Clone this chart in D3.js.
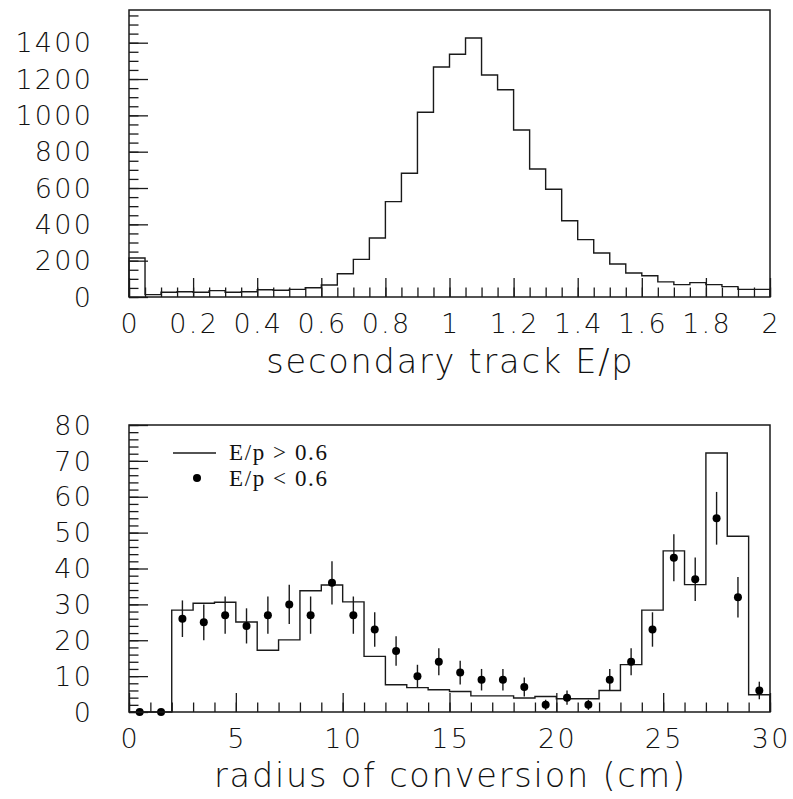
<!DOCTYPE html>
<html>
<head>
<meta charset="utf-8">
<script src="https://cdn.jsdelivr.net/npm/d3@7"></script>
<style>
  html, body { margin: 0; padding: 0; background: #fff; }
  svg { display: block; }
  .tick-label { font-family: "DejaVu Sans", Lato, sans-serif; font-weight: 200; fill: #111; }
  .axis-title { font-family: "DejaVu Sans", Lato, sans-serif; font-weight: 200; fill: #111; }
  .legend-text { font-family: "Liberation Serif", "Times New Roman", serif; fill: #111; }
</style>
</head>
<body>
<svg id="chart" width="793" height="799"></svg>
<script>
// ---- E/p distribution of the secondary track (bins of 0.05 from 0 to 2)
const epBinWidth = 0.05;
const epCounts = [
  215, 13, 26, 29, 26, 35, 26, 29, 40, 37,
  42, 51, 66, 128, 207, 325, 525, 681, 1017, 1266,
  1336, 1426, 1222, 1141, 919, 705, 593, 420, 316, 242,
  182, 132, 117, 83, 68, 79, 68, 57, 42, 42
];
const epTickLabels = [0, 0.2, 0.4, 0.6, 0.8, 1, 1.2, 1.4, 1.6, 1.8, 2];
const epCountTicks = [0, 200, 400, 600, 800, 1000, 1200, 1400];

// ---- Radius of conversion (1 cm bins from 0 to 30)
const radiusBinWidth = 1;
const radiusHighEp = [
  0, 0, 28.4, 30.3, 30.6, 25.1, 17.2, 20.1, 33.8, 35.4,
  30.7, 15.5, 7.6, 6.8, 6.2, 5.7, 4.5, 4.5, 3.9, 4.3,
  3.7, 3.7, 6.0, 13.2, 28.4, 44.9, 35.5, 72.2, 49.0, 4.8
];
const radiusLowEp = [
  0, 0, 26, 25, 27, 24, 27, 30, 27, 36,
  27, 23, 17, 10, 14, 11, 9, 9, 7, 2,
  4, 2, 9, 14, 23, 43, 37, 54, 32, 6
];
const radiusTickLabels = [0, 5, 10, 15, 20, 25, 30];
const radiusCountTicks = [0, 10, 20, 30, 40, 50, 60, 70, 80];
const legendLabels = ["E/p > 0.6", "E/p < 0.6"];

const svg = d3.select("#chart");
const ink = "#1a1a1a";
const majorLen = 19, minorLen = 9.5;
const labelSpacing = 2.3; // letter-spacing of tick labels, px
const titleSpacing = 1.8; // letter-spacing of axis titles, px

function stepPoints(values, width) {
  const pts = [[0, 0]];
  values.forEach((v, i) => pts.push([i * width, v]));
  pts.push([values.length * width, 0]);
  return pts;
}

function drawFrame(g, x, y, opts) {
  const [x0, x1] = x.range();
  const [y0, y1] = y.range();

  // minor + major ticks along the bottom, pointing inward
  const xMinor = d3.range(0, opts.xMax + 1e-9, opts.xMinorStep);
  g.append("g")
    .attr("transform", `translate(0,${y0})`)
    .call(d3.axisBottom(x).tickValues(xMinor).tickSize(-minorLen).tickFormat(""))
    .call(a => a.select(".domain").remove());
  g.append("g")
    .attr("transform", `translate(0,${y0})`)
    .call(d3.axisBottom(x).tickValues(opts.xTicks).tickSize(-majorLen).tickFormat(""))
    .call(a => a.select(".domain").remove());

  // left ticks, pointing inward
  const yMinor = d3.range(0, opts.yMax + 1e-9, opts.yMinorStep);
  g.append("g")
    .attr("transform", `translate(${x0},0)`)
    .call(d3.axisLeft(y).tickValues(yMinor).tickSize(-minorLen).tickFormat(""))
    .call(a => a.select(".domain").remove());
  g.append("g")
    .attr("transform", `translate(${x0},0)`)
    .call(d3.axisLeft(y).tickValues(opts.yTicks).tickSize(-majorLen).tickFormat(""))
    .call(a => a.select(".domain").remove());

  g.selectAll(".tick line").attr("stroke", ink).attr("stroke-width", 1.3);

  // tick labels (shifted to compensate the trailing letter-spacing)
  g.append("g").selectAll("text")
    .data(opts.xTicks).join("text")
    .attr("class", "tick-label")
    .attr("x", d => x(d) + labelSpacing / 2)
    .attr("y", y0 + opts.xLabelOffset)
    .attr("text-anchor", "middle")
    .style("font-size", opts.labelSize + "px")
    .style("letter-spacing", labelSpacing + "px")
    .text(d => d);
  g.append("g").selectAll("text")
    .data(opts.yTicks).join("text")
    .attr("class", "tick-label")
    .attr("x", opts.yLabelRight + labelSpacing)
    .attr("y", d => y(d))
    .attr("dy", "0.36em")
    .attr("text-anchor", "end")
    .style("font-size", opts.labelSize + "px")
    .style("letter-spacing", labelSpacing + "px")
    .text(d => d);

  // frame
  g.append("rect")
    .attr("x", x0).attr("y", y1)
    .attr("width", x1 - x0).attr("height", y0 - y1)
    .attr("fill", "none").attr("stroke", ink).attr("stroke-width", 1.5);

  // title
  g.append("text")
    .attr("class", "axis-title")
    .attr("x", (x0 + x1) / 2 + titleSpacing / 2)
    .attr("y", opts.titleY)
    .attr("text-anchor", "middle")
    .style("font-size", opts.titleSize + "px")
    .style("letter-spacing", titleSpacing + "px")
    .text(opts.title);
}

const left = 129, right = 770;

// ---------------- upper panel ----------------
const xTop = d3.scaleLinear().domain([0, 2]).range([left, right]);
const yTop = d3.scaleLinear().domain([0, 1580]).range([297, 10]);
const gTop = svg.append("g");

gTop.append("path")
  .datum(stepPoints(epCounts, epBinWidth))
  .attr("fill", "none")
  .attr("stroke", ink)
  .attr("stroke-width", 1.4)
  .attr("d", d3.line().x(d => xTop(d[0])).y(d => yTop(d[1])).curve(d3.curveStepAfter));

drawFrame(gTop, xTop, yTop, {
  xMax: 2, xMinorStep: 0.05, xTicks: epTickLabels,
  yMax: 1580, yMinorStep: 50, yTicks: epCountTicks,
  xLabelOffset: 36, yLabelRight: 91, labelSize: 27,
  title: "secondary track E/p", titleY: 373, titleSize: 33.5
});

// ---------------- lower panel ----------------
const xBot = d3.scaleLinear().domain([0, 30]).range([left, right]);
const yBot = d3.scaleLinear().domain([0, 80]).range([712, 425]);
const gBot = svg.append("g");

gBot.append("path")
  .datum(stepPoints(radiusHighEp, radiusBinWidth))
  .attr("fill", "none")
  .attr("stroke", ink)
  .attr("stroke-width", 1.4)
  .attr("d", d3.line().x(d => xBot(d[0])).y(d => yBot(d[1])).curve(d3.curveStepAfter));

// points with Poisson error bars
const pts = radiusLowEp.map((n, i) => ({ x: (i + 0.5) * radiusBinWidth, n }));
gBot.append("g").selectAll("line")
  .data(pts.filter(p => p.n > 0)).join("line")
  .attr("x1", p => xBot(p.x)).attr("x2", p => xBot(p.x))
  .attr("y1", p => yBot(p.n - Math.sqrt(p.n)))
  .attr("y2", p => yBot(p.n + Math.sqrt(p.n)))
  .attr("stroke", ink).attr("stroke-width", 1.4);
gBot.append("g").selectAll("circle")
  .data(pts).join("circle")
  .attr("cx", p => xBot(p.x)).attr("cy", p => yBot(p.n))
  .attr("r", 4).attr("fill", "#000");

drawFrame(gBot, xBot, yBot, {
  xMax: 30, xMinorStep: 1, xTicks: radiusTickLabels,
  yMax: 80, yMinorStep: 2, yTicks: radiusCountTicks,
  xLabelOffset: 36, yLabelRight: 91, labelSize: 27,
  title: "radius of conversion (cm)", titleY: 787, titleSize: 33.5
});

// legend
const leg = gBot.append("g");
leg.append("line")
  .attr("x1", 173).attr("x2", 216).attr("y1", 453).attr("y2", 453)
  .attr("stroke", ink).attr("stroke-width", 1.3);
leg.append("circle").attr("cx", 197).attr("cy", 478).attr("r", 4).attr("fill", "#000");
leg.selectAll("text")
  .data(legendLabels).join("text")
  .attr("class", "legend-text")
  .attr("x", 229)
  .attr("y", (d, i) => 460 + i * 26)
  .style("font-size", "23px")
  .style("letter-spacing", "1.6px")
  .text(d => d);
</script>
</body>
</html>
